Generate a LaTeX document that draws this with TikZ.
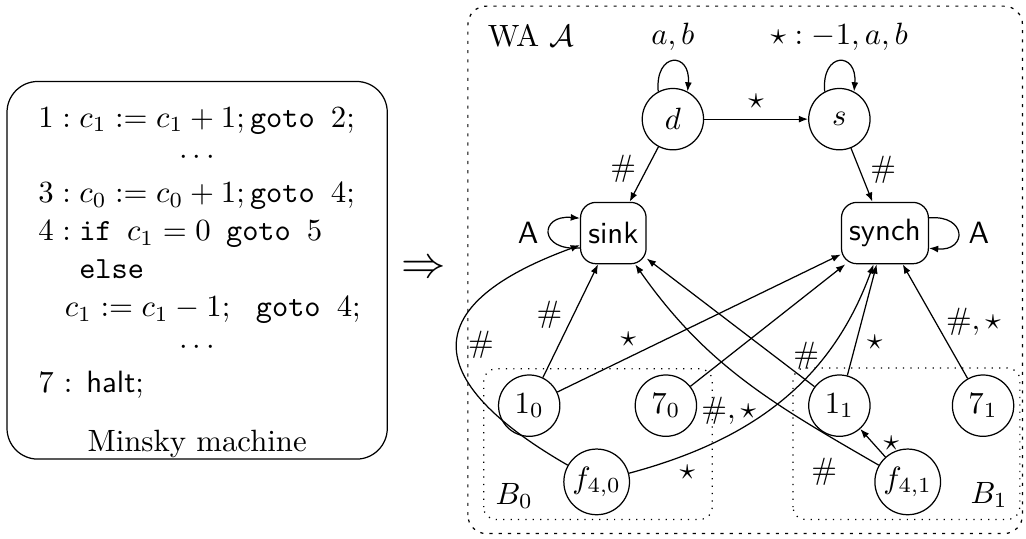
\documentclass[tikz,border=0pt]{standalone}
\usepackage{amsmath}
\usepackage{amssymb}
\usepackage{tikz}
\usetikzlibrary{arrows.meta,positioning}
\tikzset{
  >={Latex[length=3pt]},
  st/.style={draw, circle, minimum size=7mm, inner sep=1pt},
  bx/.style={draw, rectangle, rounded corners=5pt, minimum height=7mm, inner sep=2.5pt, font=\sffamily},
  tr/.style={->},
  grp/.style={draw, dotted, rounded corners=4pt},
  outerbox/.style={draw, dash pattern=on 1pt off 2pt, rounded corners=6pt},
  mbox/.style={draw, rounded corners=10pt},
}

\begin{document}
\begin{tikzpicture}
  \useasboundingbox (0,0) rectangle (11.71,6.15);
  % Minsky machine
  \draw[mbox] (0.08,0.91) rectangle (4.42,5.22);
  \node[anchor=base west, inner sep=0pt] (prog) at (0.22,4.70) {\def\arraystretch{1.025}%
    \begin{tabular}[t]{l}
      $1: c_1 := c_1 + 1; \texttt{goto\ }2;$\\
      \multicolumn{1}{c}{$\cdots$}\\
      $3: c_0 := c_0 + 1; \texttt{goto\ }4;$\\
      $4: \texttt{if}\ \,c_1 = 0\ \,\texttt{goto\ }5$\\
      \hspace*{13.3pt}\texttt{else}\\
      \hspace*{8.6pt}$c_1 := c_1 - 1;\ \ \texttt{goto\ }4;$\\
      \multicolumn{1}{c}{$\cdots$}\\
      7 : \textsf{halt};
    \end{tabular}};
  \node[anchor=base] (mname) at (2.25,1.00) {Minsky machine};
  \node (imp) at (4.83,3.07) {\Large$\Rightarrow$};
  % the automaton
  \draw[outerbox] (5.34,0.06) rectangle (11.67,6.08);
  \node[anchor=base west, inner sep=0pt] (wa) at (5.56,5.62) {WA $\mathcal{A}$};
  \draw[grp] (5.52,0.22) rectangle (8.13,1.94);
  \draw[grp] (9.05,0.22) rectangle (11.64,1.95);
  \node (b0) at (5.87,0.49) {$B_0$};
  \node (b1) at (11.29,0.50) {$B_1$};
  \node[st] (d) at (7.68,4.79) {$d$};
  \node[st] (s) at (9.58,4.79) {$s$};
  \node[bx] (sink) at (7.00,3.49) {sink};
  \node[bx] (synch) at (10.10,3.49) {synch};
  \node[st] (n10) at (6.04,1.52) {$1_0$};
  \node[st] (n70) at (7.60,1.52) {$7_0$};
  \node[st] (f40) at (6.81,0.65) {$f_{4,0}$};
  \node[st] (n11) at (9.58,1.52) {$1_1$};
  \node[st] (n71) at (11.22,1.52) {$7_1$};
  \node[st] (f41) at (10.36,0.65) {$f_{4,1}$};

  % loops
  \path[tr]
    (d.118) edge[out=95, in=85, min distance=4.6mm] node[above] {$a,b$} (d.62)
    (s.118) edge[out=95, in=85, min distance=4.6mm] node[above] {$\star: -1, a, b$} (s.62)
    (sink.204) edge[out=185, in=175, min distance=4.7mm] node[left] {\textsf{A}} (sink.156)
    (synch.19) edge[out=5, in=-5, min distance=4.4mm] node[right] {\textsf{A}} (synch.-19);

  \path[tr]
    (d) edge node[above] {$\star$} (s)
        edge node[pos=0.4, left] {$\#$} (sink)
    (s) edge node[pos=0.4, right] {$\#$} (synch)
    (n10) edge node[pos=0.55, left] {$\#$} (sink)
          edge node[pos=0.25, above] {$\star$} (synch)
    (n70) edge node[pos=0, below right] {$\#,\star$} (synch)
    (n11) edge node[pos=0.05, above] {$\#$} (sink)
          edge node[pos=0.3, right] {$\star$} (synch)
    (n71) edge node[right] {$\#,\star$} (synch)
    (f41) edge node[right] {$\star$} (n11)
          edge[out=150, in=-55] node[pos=0.1, below left] {$\#$} (sink)
    (f40) edge[out=150, in=200, looseness=2] node[right] {$\#$} (sink)
          edge[out=15, in=-110] node[pos=0.17, below] {$\star$} (synch);
\end{tikzpicture}
\end{document}
